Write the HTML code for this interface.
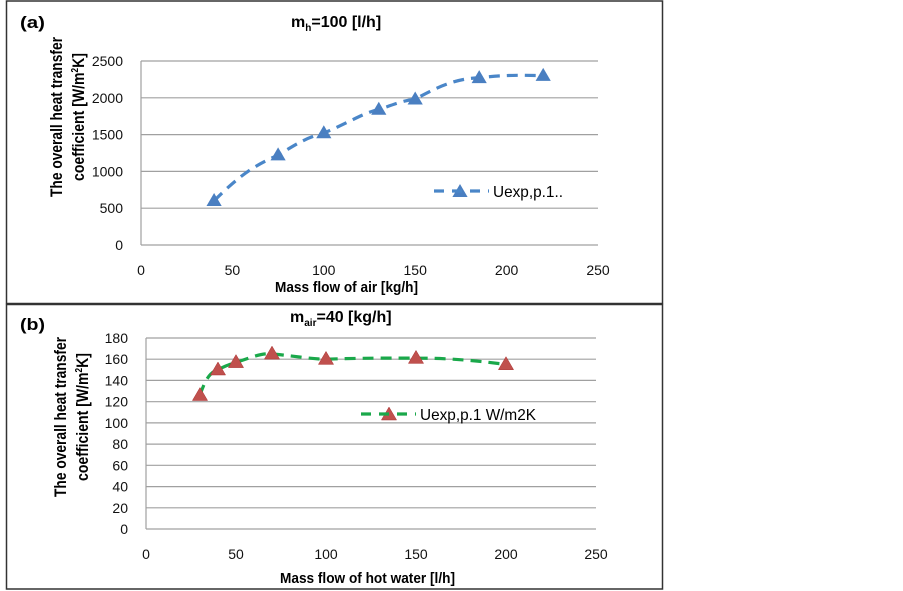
<!DOCTYPE html>
<html><head><meta charset="utf-8"><style>
html,body{margin:0;padding:0;background:#fff;}
svg{display:block;font-family:"Liberation Sans",sans-serif;}
</style></head><body>
<svg width="903" height="591" viewBox="0 0 903 591" xmlns="http://www.w3.org/2000/svg">
<rect x="0" y="0" width="903" height="591" fill="#fff"/>
<rect x="6.5" y="1" width="656" height="302.5" fill="none" stroke="#333" stroke-width="1.5"/>
<rect x="6.5" y="304.5" width="656" height="284.5" fill="none" stroke="#333" stroke-width="1.5"/>

<!-- Panel A -->
<g stroke="#a0a0a0" stroke-width="1.2">
<line x1="141" y1="61" x2="598" y2="61"/><line x1="141" y1="97.8" x2="598" y2="97.8"/>
<line x1="141" y1="134.6" x2="598" y2="134.6"/><line x1="141" y1="171.4" x2="598" y2="171.4"/>
<line x1="141" y1="208.2" x2="598" y2="208.2"/><line x1="141" y1="245" x2="598" y2="245"/>
<line x1="141" y1="61" x2="141" y2="245"/>
</g>
<g font-size="14" text-anchor="end" fill="#111">
<text x="123" y="66">2500</text><text x="123" y="102.8">2000</text><text x="123" y="139.6">1500</text>
<text x="123" y="176.4">1000</text><text x="123" y="213.2">500</text><text x="123" y="250">0</text>
</g>
<g font-size="14" text-anchor="middle" fill="#111">
<text x="141" y="275">0</text><text x="232.4" y="275">50</text><text x="323.8" y="275">100</text>
<text x="415.2" y="275">150</text><text x="506.6" y="275">200</text><text x="598" y="275">250</text>
</g>
<text x="275" y="292" font-size="15" font-weight="bold" textLength="143" lengthAdjust="spacingAndGlyphs">Mass flow of air [kg/h]</text>
<text x="20" y="28" font-size="17" font-weight="bold" textLength="25" lengthAdjust="spacingAndGlyphs">(a)</text>
<text x="291" y="27" font-size="16" font-weight="bold">m<tspan font-size="10" dy="4">h</tspan><tspan dy="-4">=100 [l/h]</tspan></text>
<g transform="translate(0,117) rotate(-90)" font-size="17" font-weight="bold" text-anchor="middle">
<text x="0" y="62" textLength="160" lengthAdjust="spacingAndGlyphs">The overall heat transfer</text>
<text x="0" y="84" textLength="128" lengthAdjust="spacingAndGlyphs">coefficient [W/m<tspan font-size="10" dy="-6">2</tspan><tspan dy="6">K]</tspan></text>
</g>
<path d="M214.1,200.8 C240,175 255,165 278.1,155.2 C295,145 305,138 323.8,133.1 C350,122 365,112 378.8,109.6 C395,104 405,100 415.2,99.3 C440,85 460,78 479.2,77.9 C500,75 520,75 543.2,75.7" fill="none" stroke="#4a86c8" stroke-width="3.2" stroke-dasharray="11,7"/>
<g fill="#4a7fc1">
<polygon points="214.1,193 206.5,206 221.7,206"/>
<polygon points="278.1,147.4 270.5,160.4 285.7,160.4"/>
<polygon points="323.8,125.3 316.2,138.3 331.4,138.3"/>
<polygon points="378.8,101.8 371.2,114.8 386.4,114.8"/>
<polygon points="415.2,91.5 407.6,104.5 422.8,104.5"/>
<polygon points="479.2,70.1 471.6,83.1 486.8,83.1"/>
<polygon points="543.2,67.9 535.6,80.9 550.8,80.9"/>
<polygon points="460,184 452.4,197 467.6,197"/>
</g>
<line x1="434" y1="191" x2="489" y2="191" stroke="#4a86c8" stroke-width="3.2" stroke-dasharray="10,8"/>
<text x="493" y="197" font-size="16" textLength="70" lengthAdjust="spacingAndGlyphs">Uexp,p.1..</text>

<!-- Panel B -->
<g stroke="#a0a0a0" stroke-width="1.2">
<line x1="146" y1="338" x2="596" y2="338"/><line x1="146" y1="359.2" x2="596" y2="359.2"/>
<line x1="146" y1="380.4" x2="596" y2="380.4"/><line x1="146" y1="401.7" x2="596" y2="401.7"/>
<line x1="146" y1="422.9" x2="596" y2="422.9"/><line x1="146" y1="444.1" x2="596" y2="444.1"/>
<line x1="146" y1="465.3" x2="596" y2="465.3"/><line x1="146" y1="486.6" x2="596" y2="486.6"/>
<line x1="146" y1="507.8" x2="596" y2="507.8"/><line x1="146" y1="529" x2="596" y2="529"/>
<line x1="146" y1="338" x2="146" y2="529"/>
</g>
<g font-size="14" text-anchor="end" fill="#111">
<text x="128" y="343">180</text><text x="128" y="364.2">160</text><text x="128" y="385.4">140</text>
<text x="128" y="406.7">120</text><text x="128" y="427.9">100</text><text x="128" y="449.1">80</text>
<text x="128" y="470.3">60</text><text x="128" y="491.6">40</text><text x="128" y="512.8">20</text><text x="128" y="534">0</text>
</g>
<g font-size="14" text-anchor="middle" fill="#111">
<text x="146" y="559">0</text><text x="236" y="559">50</text><text x="326" y="559">100</text>
<text x="416" y="559">150</text><text x="506" y="559">200</text><text x="596" y="559">250</text>
</g>
<text x="280" y="583" font-size="15" font-weight="bold" textLength="175" lengthAdjust="spacingAndGlyphs">Mass flow of hot water [l/h]</text>
<text x="20" y="330" font-size="17" font-weight="bold" textLength="25" lengthAdjust="spacingAndGlyphs">(b)</text>
<text x="290" y="322" font-size="16" font-weight="bold">m<tspan font-size="10" dy="4">air</tspan><tspan dy="-4">=40 [kg/h]</tspan></text>
<g transform="translate(0,417) rotate(-90)" font-size="17" font-weight="bold" text-anchor="middle">
<text x="0" y="66" textLength="160" lengthAdjust="spacingAndGlyphs">The overall heat transfer</text>
<text x="0" y="88" textLength="128" lengthAdjust="spacingAndGlyphs">coefficient [W/m<tspan font-size="10" dy="-6">2</tspan><tspan dy="6">K]</tspan></text>
</g>
<path d="M200,395.3 C205,380 210,372 218,369.8 C225,366 230,364 236,362.4 C255,356 262,353 272,353.9 C295,356 310,359 326,359.2 C360,358 390,358 416,358.2 C450,358 480,361 506,364.5" fill="none" stroke="#1aa84a" stroke-width="3.2" stroke-dasharray="11,7"/>
<g fill="#c0504d" stroke="#a33" stroke-width="0.5">
<polygon points="200,387.5 192.4,400.5 207.6,400.5"/>
<polygon points="218,362 210.4,375 225.6,375"/>
<polygon points="236,354.6 228.4,367.6 243.6,367.6"/>
<polygon points="272,346.1 264.4,359.1 279.6,359.1"/>
<polygon points="326,351.4 318.4,364.4 333.6,364.4"/>
<polygon points="416,350.4 408.4,363.4 423.6,363.4"/>
<polygon points="506,356.7 498.4,369.7 513.6,369.7"/>
<polygon points="389,407 381.4,420 396.6,420"/>
</g>
<line x1="361" y1="414" x2="416" y2="414" stroke="#1aa84a" stroke-width="3.2" stroke-dasharray="10,8"/>
<text x="420" y="420" font-size="16" textLength="116" lengthAdjust="spacingAndGlyphs">Uexp,p.1 W/m2K</text>
</svg>
</body></html>
